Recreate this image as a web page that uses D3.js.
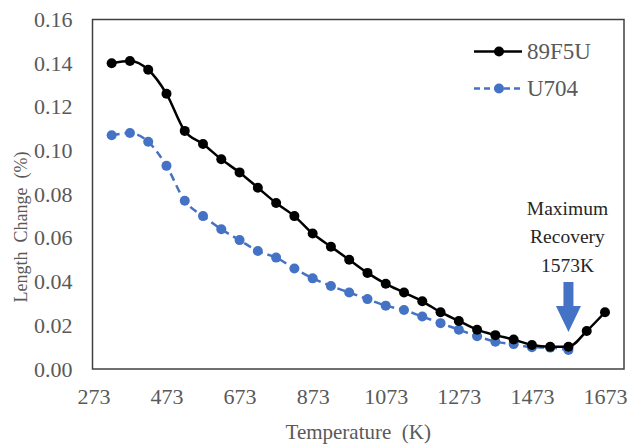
<!DOCTYPE html>
<html><head><meta charset="utf-8">
<script src="https://cdn.jsdelivr.net/npm/d3@7"></script>
<style>
html,body{margin:0;padding:0;background:#fff;}
svg{display:block;}
svg text{font-family:"Liberation Serif","Tinos","Times New Roman",serif !important;}
</style></head>
<body><svg id="c" width="628" height="444"></svg>
<script>
// ---- data ----
const temps = [323,373,423,473,523,573,623,673,723,773,823,873,923,973,1023,1073,1123,1173,1223,1273,1323,1373,1423,1473,1523,1573,1623,1673];
const series89F5U = [0.140,0.141,0.137,0.126,0.109,0.103,0.096,0.090,0.083,0.076,0.070,0.062,0.056,0.050,0.044,0.039,0.035,0.031,0.026,0.022,0.018,0.0155,0.0135,0.011,0.0102,0.0102,0.0174,0.026];
const seriesU704 = [0.107,0.108,0.104,0.093,0.077,0.070,0.064,0.059,0.054,0.051,0.046,0.0415,0.038,0.035,0.032,0.029,0.027,0.024,0.021,0.018,0.015,0.0125,0.0114,0.010,0.0098,0.0087];
const xTicks = [273,473,673,873,1073,1273,1473,1673];
const yTicks = [0,0.02,0.04,0.06,0.08,0.10,0.12,0.14,0.16];
const seriesNames = ["89F5U","U704"];
const annotationLines = ["Maximum","Recovery","1573K"];
const annotationTemp = 1573;

// ---- layout ----
const svg = d3.select("#c");
const L = 92.5, R = 624, T = 19.5, B = 369;
const x = d3.scaleLinear().domain([273, 1725]).range([93.4, R]);
const y = d3.scaleLinear().domain([0, 0.16]).range([B, T]);
const grey = "#595959", blue = "#4472C4";

// plot border
svg.append("rect").attr("x", L).attr("y", T).attr("width", R - L).attr("height", B - T)
  .attr("fill", "none").attr("stroke", "#404040").attr("stroke-width", 1.5);

// y axis
const yAxis = d3.axisLeft(y).tickValues(yTicks).tickFormat(d3.format(".2f")).tickSize(0).tickPadding(20);
const gy = svg.append("g").attr("transform", `translate(${L},0)`).call(yAxis);
gy.select(".domain").remove();
gy.selectAll("text").attr("fill", grey).attr("font-size", 22);

// x axis
const xAxis = d3.axisBottom(x).tickValues(xTicks).tickFormat(d3.format("d")).tickSize(0).tickPadding(19);
const gx = svg.append("g").attr("transform", `translate(0,${B})`).call(xAxis);
gx.select(".domain").remove();
gx.selectAll("text").attr("fill", grey).attr("font-size", 22);

// axis titles
svg.append("text").attr("x", (L + R) / 2).attr("y", 439).attr("text-anchor", "middle")
  .attr("fill", grey).attr("font-size", 21).attr("xml:space", "preserve").text("Temperature  (K)");
svg.append("text").attr("transform", `translate(27,227) rotate(-90)`).attr("text-anchor", "middle")
  .attr("fill", grey).attr("font-size", 18).attr("xml:space", "preserve").text("Length  Change  (%)");

// lines
const line = d3.line().x(d => x(d[0])).y(d => y(d[1])).curve(d3.curveMonotoneX);
const d1 = temps.map((t, i) => [t, series89F5U[i]]);
const d2 = seriesU704.map((v, i) => [temps[i], v]);

svg.append("path").datum(d2).attr("d", line).attr("fill", "none").attr("stroke", blue)
  .attr("stroke-width", 2.5).attr("stroke-dasharray", "8,5");
svg.selectAll(".p2").data(d2).enter().append("circle").attr("cx", d => x(d[0])).attr("cy", d => y(d[1]))
  .attr("r", 5).attr("fill", blue);

svg.append("path").datum(d1).attr("d", line).attr("fill", "none").attr("stroke", "#000").attr("stroke-width", 2.5);
svg.selectAll(".p1").data(d1).enter().append("circle").attr("cx", d => x(d[0])).attr("cy", d => y(d[1]))
  .attr("r", 5).attr("fill", "#000");

// legend
const leg = svg.append("g");
[[seriesNames[0], "#000", null, 51.5], [seriesNames[1], blue, "6,4", 88.5]].forEach(([name, col, dash, ly]) => {
  leg.append("line").attr("x1", 474).attr("x2", 522).attr("y1", ly).attr("y2", ly)
    .attr("stroke", col).attr("stroke-width", 2.5).attr("stroke-dasharray", dash);
  leg.append("circle").attr("cx", 499).attr("cy", ly).attr("r", 5).attr("fill", col);
  leg.append("text").attr("x", 527).attr("y", ly + 7.5).attr("fill", grey).attr("font-size", 23).text(name);
});

// annotation
const ax = x(annotationTemp);
annotationLines.forEach((t, i) => {
  svg.append("text").attr("x", ax - 1).attr("y", 214.5 + i * 28.8).attr("text-anchor", "middle")
    .attr("fill", "#262626").attr("font-size", 19.5).text(t);
});
svg.append("path")
  .attr("d", `M${ax - 5},282 L${ax + 5},282 L${ax + 5},306 L${ax + 12.5},306 L${ax},332 L${ax - 12.5},306 L${ax - 5},306 Z`)
  .attr("fill", blue);
</script></body></html>
